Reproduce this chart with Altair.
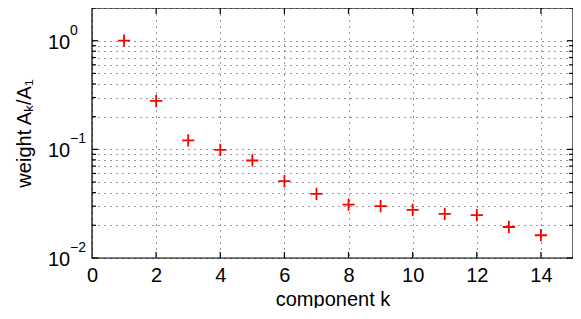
import altair as alt
import pandas as pd

# data
components = [1, 2, 3, 4, 5, 6, 7, 8, 9, 10, 11, 12, 13, 14]
weights = [1.0, 0.279, 0.121, 0.099, 0.079, 0.051, 0.039, 0.031, 0.030,
           0.0277, 0.0255, 0.0248, 0.0193, 0.0162]

x_ticks = [0, 2, 4, 6, 8, 10, 12, 14]
y_major = [0.01, 0.1, 1.0]
y_major_base = ["10", "10", "10"]
y_major_exp = ["\u22122", "\u22121", "0"]
y_minor = [0.02, 0.03, 0.04, 0.05, 0.06, 0.07, 0.08, 0.09,
           0.2, 0.3, 0.4, 0.5, 0.6, 0.7, 0.8, 0.9, 2.0]

W, H = 481, 250
FONT = "Liberation Sans"

xs = alt.Scale(domain=[0, 15], nice=False, zero=False)
ys = alt.Scale(type="log", domain=[0.01, 2], nice=False)

pts = pd.DataFrame({"k": components, "w": weights})
ymaj = pd.DataFrame({"v": y_major, "base": y_major_base, "exp": y_major_exp})
ymin = pd.DataFrame({"v": y_minor})
xt = pd.DataFrame({"v": [t for t in x_ticks if t > 0]})

grid_axis_x = alt.Axis(values=x_ticks, grid=True, gridDash=[1, 5], gridColor="#000",
                       gridOpacity=0.8, ticks=False, domain=False, labelFlush=False,
                       labelFont=FONT, labelFontSize=20, labelColor="black",
                       labelPadding=7, title="component k", titleFont=FONT,
                       titleFontSize=20, titleFontWeight="normal", titleColor="black",
                       titlePadding=4)
grid_axis_y = alt.Axis(values=y_major + y_minor, grid=True, gridDash=[1, 5],
                       gridColor="#000", gridOpacity=0.8, ticks=False, domain=False,
                       labels=False, title="weight A\u2096/A\u2081", titleFont=FONT,
                       titleFontSize=20, titleFontWeight="normal", titleColor="black",
                       titlePadding=58)

grid = alt.Chart(pts).mark_point(opacity=0).encode(
    x=alt.X("k:Q", scale=xs, axis=grid_axis_x),
    y=alt.Y("w:Q", scale=ys, axis=grid_axis_y),
)

plus = "M-1,0L1,0M0,-1L0,1"
points = alt.Chart(pts).mark_point(shape=plus, filled=False, color="#ff0000",
                                   size=150, strokeWidth=1.8, opacity=1).encode(
    x=alt.X("k:Q", scale=xs),
    y=alt.Y("w:Q", scale=ys),
)

ytick_left_minor = alt.Chart(ymin).mark_rule(color="black", strokeWidth=1.2).encode(
    y=alt.Y("v:Q", scale=ys), x=alt.value(0), x2=alt.value(4))
ytick_left_major = alt.Chart(ymaj).mark_rule(color="black", strokeWidth=1.2).encode(
    y=alt.Y("v:Q", scale=ys), x=alt.value(0), x2=alt.value(6))
ytick_right_minor = alt.Chart(ymin).mark_rule(color="black", strokeWidth=1.2).encode(
    y=alt.Y("v:Q", scale=ys), x=alt.value(W), x2=alt.value(W - 4))
ytick_right_major = alt.Chart(ymaj).mark_rule(color="black", strokeWidth=1.2).encode(
    y=alt.Y("v:Q", scale=ys), x=alt.value(W), x2=alt.value(W - 6))
xtick_bottom = alt.Chart(xt).mark_rule(color="black", strokeWidth=1.2).encode(
    x=alt.X("v:Q", scale=xs), y=alt.value(H), y2=alt.value(H - 6))
xtick_top = alt.Chart(xt).mark_rule(color="black", strokeWidth=1.2).encode(
    x=alt.X("v:Q", scale=xs), y=alt.value(0), y2=alt.value(6))

frame = alt.Chart(pts.head(1)).mark_rect(fill="white", fillOpacity=0, stroke="#000000",
                                         strokeWidth=1.2, strokeOpacity=1).encode(
    x=alt.value(0), x2=alt.value(W), y=alt.value(0), y2=alt.value(H))

lab_base = alt.Chart(ymaj).mark_text(align="left", baseline="middle", font=FONT,
                                     fontSize=20, color="black", dy=2).encode(
    y=alt.Y("v:Q", scale=ys), x=alt.value(-44), text="base:N")
lab_exp = alt.Chart(ymaj).mark_text(align="left", baseline="middle", font=FONT,
                                    fontSize=14, color="black", dy=-10).encode(
    y=alt.Y("v:Q", scale=ys), x=alt.value(-22), text="exp:N")

chart = alt.layer(
    grid, ytick_left_minor, ytick_left_major, ytick_right_minor, ytick_right_major,
    xtick_bottom, xtick_top, lab_base, lab_exp, frame, points
).properties(
    width=W, height=H,
    autosize=alt.AutoSizeParams(type="none"),
    padding={"left": 84, "top": 0, "right": 0, "bottom": 50},
).configure_view(stroke=None).configure(background="white")

chart.save("out.html", embed_options={"renderer": "svg", "actions": False})
